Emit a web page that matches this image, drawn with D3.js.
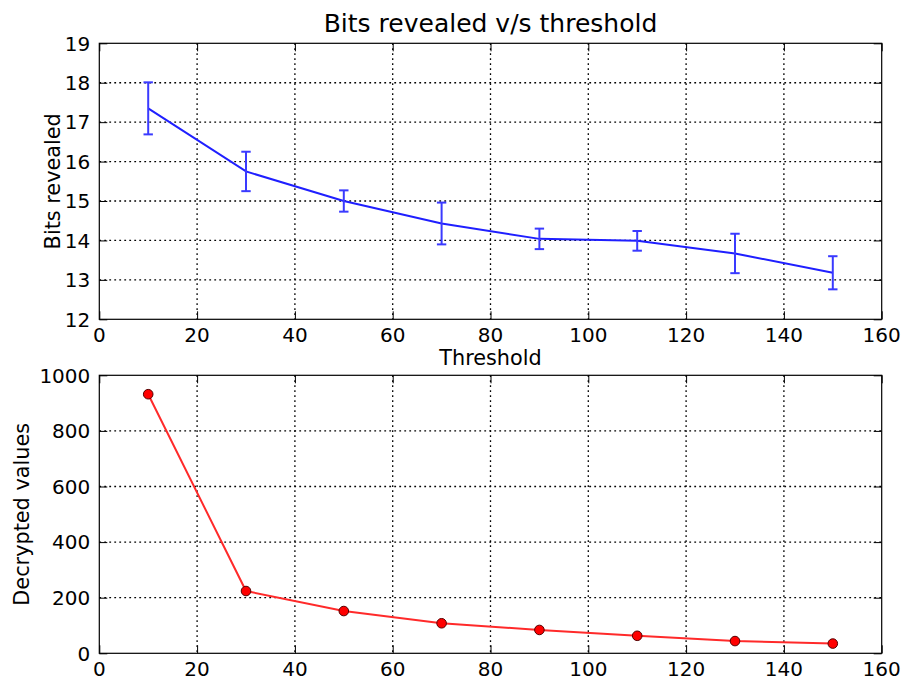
<!DOCTYPE html>
<html>
<head>
<meta charset="utf-8">
<script src="https://cdn.jsdelivr.net/npm/d3@7"></script>
<style>
  body { margin: 0; background: #fff; }
  text { font-family: "DejaVu Sans", sans-serif; fill: #000; }
</style>
</head>
<body>
<svg></svg>
<script>
const thresholds = [10, 30, 50, 70, 90, 110, 130, 150];
const bitsRevealed = [17.35, 15.75, 15.0, 14.43, 14.04, 13.99, 13.67, 13.18];
const bitsError = [0.66, 0.5, 0.27, 0.53, 0.26, 0.25, 0.5, 0.42];
const decryptedValues = [932, 224, 152, 108, 84, 63, 44, 35];
const xTicks = [0, 20, 40, 60, 80, 100, 120, 140, 160];
const bitsTicks = [12, 13, 14, 15, 16, 17, 18, 19];
const decryptedTicks = [0, 200, 400, 600, 800, 1000];

let svg = d3.select('svg')
  .attr('width', 904)
  .attr('height', 683);

let left = 99.3, right = 881.7;
let tickFont = '20px', labelFont = '20.8px';
let x = d3.scaleLinear().domain([0, 160]).range([left, right]);

function panel(top, bottom, domain, ticks, label, labelX) {
  let y = d3.scaleLinear().domain(domain).range([bottom, top]);
  let g = svg.append('g');

  // dotted grid
  g.selectAll('.gx').data(xTicks.slice(1, -1)).enter().append('line')
    .attr('x1', d => x(d)).attr('x2', d => x(d))
    .attr('y1', top).attr('y2', bottom)
    .attr('stroke', '#000').attr('stroke-width', 1.3).attr('stroke-dasharray', '1.8,3.2');
  g.selectAll('.gy').data(ticks.slice(1, -1)).enter().append('line')
    .attr('x1', left).attr('x2', right)
    .attr('y1', d => y(d)).attr('y2', d => y(d))
    .attr('stroke', '#000').attr('stroke-width', 1.3).attr('stroke-dasharray', '1.8,3.2');

  // inward ticks on all four sides
  let tick = 8;
  g.append('g').attr('transform', `translate(0,${bottom})`)
    .call(d3.axisTop(x).tickValues(xTicks).tickSize(tick).tickFormat(''))
    .call(a => a.select('.domain').remove());
  g.append('g').attr('transform', `translate(0,${top})`)
    .call(d3.axisBottom(x).tickValues(xTicks).tickSize(tick).tickFormat(''))
    .call(a => a.select('.domain').remove());
  g.append('g').attr('transform', `translate(${left},0)`)
    .call(d3.axisRight(y).tickValues(ticks).tickSize(tick).tickFormat(''))
    .call(a => a.select('.domain').remove());
  g.append('g').attr('transform', `translate(${right},0)`)
    .call(d3.axisLeft(y).tickValues(ticks).tickSize(tick).tickFormat(''))
    .call(a => a.select('.domain').remove());
  g.selectAll('.tick line').attr('stroke', '#000');

  // tick labels
  g.selectAll('.xl').data(xTicks).enter().append('text')
    .attr('x', d => x(d)).attr('y', bottom + 22.5)
    .attr('text-anchor', 'middle')
    .style('font-size', tickFont)
    .text(d => d);
  g.selectAll('.yl').data(ticks).enter().append('text')
    .attr('x', left - 9).attr('y', d => y(d))
    .attr('dy', '0.36em')
    .attr('text-anchor', 'end')
    .style('font-size', tickFont)
    .text(d => d);

  g.append('text')
    .attr('transform', `translate(${labelX},${(top + bottom) / 2}) rotate(-90)`)
    .attr('text-anchor', 'middle')
    .style('font-size', labelFont)
    .text(label);

  g.append('rect')
    .attr('x', left).attr('y', top)
    .attr('width', right - left).attr('height', bottom - top)
    .attr('fill', 'none').attr('stroke', '#000').attr('stroke-width', 1.2);

  return { g: g, y: y };
}

// top panel
let p1 = panel(43.3, 319.3, [12, 19], bitsTicks, 'Bits revealed', 59.5);
let blue = '#1f1fff';
let lineGenerator = d3.line().x(d => x(d[0])).y(d => p1.y(d[1]));
p1.g.append('path')
  .attr('d', lineGenerator(thresholds.map((t, i) => [t, bitsRevealed[i]])))
  .attr('fill', 'none').attr('stroke', blue).attr('stroke-width', 2);

let bars = p1.g.selectAll('.err').data(thresholds).enter().append('g')
  .attr('stroke', '#3a3aff').attr('stroke-width', 2);
bars.append('line')
  .attr('x1', d => x(d)).attr('x2', d => x(d))
  .attr('y1', (d, i) => p1.y(bitsRevealed[i] + bitsError[i]))
  .attr('y2', (d, i) => p1.y(bitsRevealed[i] - bitsError[i]));
bars.append('line')
  .attr('x1', d => x(d) - 4.7).attr('x2', d => x(d) + 4.7)
  .attr('y1', (d, i) => p1.y(bitsRevealed[i] + bitsError[i]))
  .attr('y2', (d, i) => p1.y(bitsRevealed[i] + bitsError[i]));
bars.append('line')
  .attr('x1', d => x(d) - 4.7).attr('x2', d => x(d) + 4.7)
  .attr('y1', (d, i) => p1.y(bitsRevealed[i] - bitsError[i]))
  .attr('y2', (d, i) => p1.y(bitsRevealed[i] - bitsError[i]));

svg.append('text')
  .attr('x', (left + right) / 2).attr('y', 31.5)
  .attr('text-anchor', 'middle')
  .style('font-size', '25px')
  .text('Bits revealed v/s threshold');

svg.append('text')
  .attr('x', (left + right) / 2).attr('y', 365)
  .attr('text-anchor', 'middle')
  .style('font-size', labelFont)
  .text('Threshold');

// bottom panel
let p2 = panel(375.3, 653.3, [0, 1000], decryptedTicks, 'Decrypted values', 28.5);
let redLine = d3.line().x(d => x(d[0])).y(d => p2.y(d[1]));
p2.g.append('path')
  .attr('d', redLine(thresholds.map((t, i) => [t, decryptedValues[i]])))
  .attr('fill', 'none').attr('stroke', '#ff2a2a').attr('stroke-width', 2);
p2.g.selectAll('.dot').data(thresholds).enter().append('circle')
  .attr('cx', d => x(d))
  .attr('cy', (d, i) => p2.y(decryptedValues[i]))
  .attr('r', 4.8)
  .attr('fill', '#ff0000')
  .attr('stroke', '#550000').attr('stroke-width', 1);
</script>
</body>
</html>
